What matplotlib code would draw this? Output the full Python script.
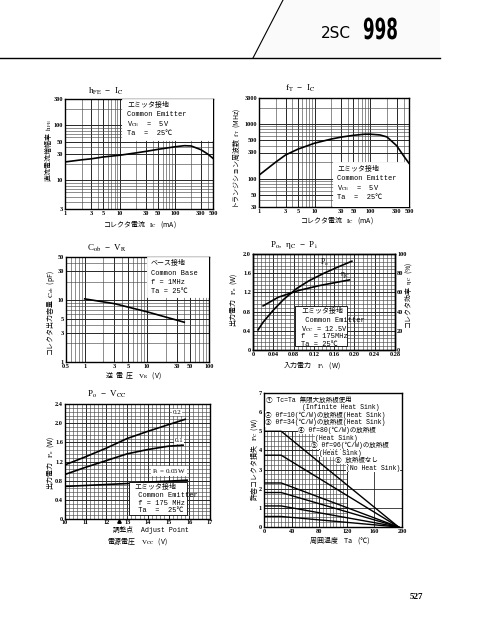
import matplotlib
matplotlib.use('Agg')
import matplotlib.pyplot as plt
import numpy as np
from matplotlib.ticker import MultipleLocator, NullFormatter
from matplotlib.patches import Rectangle, Polygon, PathPatch
from matplotlib.lines import Line2D
from matplotlib.textpath import TextPath
from matplotlib.font_manager import FontProperties
from matplotlib.transforms import Affine2D

SERIF = ['Liberation Serif', 'Noto Sans CJK JP', 'DejaVu Sans']
MONO = ['Liberation Mono', 'Noto Sans CJK JP', 'DejaVu Sans']
CJK = ['Noto Sans CJK JP', 'DejaVu Sans']   # for strings mixing kana/kanji with mathtext
plt.rcParams['font.family'] = SERIF
plt.rcParams['mathtext.fontset'] = 'stix'

# hFE - IC
hfe_ic = [1, 2, 3, 5, 10, 20, 30, 50, 100, 150, 200, 300, 400, 500]
hfe = [21.5, 23.5, 24.5, 26.5, 28.5, 31.5, 33.5, 36.5, 40.5, 42.5, 42, 36, 30, 25]

# fT - IC
ft_ic = [1, 2, 3, 5, 10, 20, 30, 50, 80, 100, 150, 200, 300, 400, 500]
ft = [115, 200, 270, 345, 445, 530, 575, 620, 650, 650, 630, 580, 400, 260, 190]

# Cob - VR
cob_vr = [1, 3, 10, 40]
cob = [10.5, 8.8, 6.5, 4.4]

# Po, eta - Pi
po_pi = [0.01, 0.02, 0.04, 0.06, 0.086, 0.11, 0.14, 0.17, 0.195]
po = [0.42, 0.58, 0.83, 1.05, 1.28, 1.44, 1.6, 1.74, 1.85]
eta_pi = [0.02, 0.05, 0.09, 0.13, 0.16, 0.19]
eta = [46, 55, 62, 67, 70, 73]

# Po - VCC
vcc_02 = [10, 11, 12, 12.5, 13, 14, 15, 15.8]
po_02 = [1.13, 1.3, 1.48, 1.58, 1.68, 1.83, 1.97, 2.08]
vcc_01 = [10, 11, 12, 13, 14, 15, 15.7]
po_01 = [0.93, 1.08, 1.22, 1.36, 1.45, 1.52, 1.54]
vcc_005 = [10, 11, 12, 13, 14, 15, 15.9]
po_005 = [0.68, 0.7, 0.72, 0.74, 0.77, 0.79, 0.81]

# PC - Ta
ta = [0, 25, 195]
pc_curves = [[5.0, 5.0, 0], [3.75, 3.75, 0], [2.3, 2.3, 0],
             [1.8, 1.8, 0], [1.1, 1.1, 0], [0.55, 0.55, 0]]
pc_notes = ['① Tc=Ta 無限大放熱板使用', '(Infinite Heat Sink)',
            '② θf=10(℃/W)の放熱板(Heat Sink)', '③ θf=34(℃/W)の放熱板(Heat Sink)',
            '④ θf=80(℃/W)の放熱板', '(Heat Sink)',
            '⑤ θf=96(℃/W)の放熱板', '(Heat Sink)',
            '⑥ 放熱板なし', '(No Heat Sink)']

W, H = 478, 636
fig = plt.figure(figsize=(4.78, 6.36), dpi=100)


def add_ax(l, t, r, b):
    return fig.add_axes([l / W, 1 - b / H, (r - l) / W, (b - t) / H])


def ftxt(x, y, s, **kw):
    kw.setdefault('fontsize', 5)
    kw.setdefault('va', 'center')
    return fig.text(x / W, 1 - y / H, s, **kw)


def style(ax):
    ax.tick_params(which='both', length=0, pad=1.5, labelsize=4.5)
    for lab in ax.get_xticklabels() + ax.get_yticklabels():
        lab.set_fontweight('bold')
    for s in ax.spines.values():
        s.set_linewidth(1.0)


def log_axes(ax, xlim, ylim, xt, yt):
    ax.set_xscale('log')
    ax.set_yscale('log')
    ax.set_xlim(*xlim)
    ax.set_ylim(*ylim)
    ax.set_xticks(xt, [f'{v:g}' for v in xt])
    ax.set_yticks(yt, [f'{v:g}' for v in yt])
    ax.xaxis.set_minor_formatter(NullFormatter())
    ax.yaxis.set_minor_formatter(NullFormatter())
    ax.grid(which='major', color='0.15', lw=0.7)
    ax.grid(which='minor', color='0.3', lw=0.45)
    style(ax)


def white_box(ax, x0, y0, x1, y1, edge=True):
    ax.add_patch(Rectangle((x0, y0), x1 - x0, y1 - y0, transform=ax.transAxes,
                           fc='white', ec='k' if edge else 'white', lw=0.6, zorder=3))


def box_lines(x, ys, lines, fs=5):
    for y, s in zip(ys, lines):
        ftxt(x, y, s, fontsize=fs, family=MONO, zorder=5)


# header
fig.add_artist(Polygon([(283 / W, 1), (440 / W, 1), (440 / W, 1 - 58 / H), (253 / W, 1 - 58 / H)],
                       closed=True, fc='#fafafa', ec='none', transform=fig.transFigure))
fig.add_artist(Line2D([0, 440 / W], [1 - 58 / H, 1 - 58 / H], color='k', lw=1.0, transform=fig.transFigure))
fig.add_artist(Line2D([253 / W, 283 / W], [1 - 58 / H, 1], color='k', lw=0.8, transform=fig.transFigure))
ftxt(321, 38, '2SC', fontsize=11, va='baseline', family=['DejaVu Sans'])
tp = TextPath((0, 0), '998', size=29, prop=FontProperties(family='DejaVu Sans', weight='bold'))
sx = 33 / tp.get_extents().width
fig.add_artist(PathPatch(tp, fc='k', ec='none',
                         transform=Affine2D().scale(sx, 1).translate(363, H - 39)))

# chart 1: hFE - IC
ax1 = add_ax(65, 99, 213, 209)
log_axes(ax1, (1, 500), (3, 300), [1, 3, 5, 10, 30, 50, 100, 300, 500], [3, 10, 30, 50, 100, 300])
white_box(ax1, 0.385, 0.624, 1.0, 1.0, edge=False)
ax1.plot(hfe_ic, hfe, color='k', lw=1.2, zorder=4)
box_lines(127, [105, 114.3, 124, 133.3],
          ['エミッタ接地', 'Common Emitter', 'V$_{\\rm CE}$  =  5V', 'Ta  =  25℃'])
ftxt(88, 91, 'h$_{\\rm FE}$  −  I$_{\\rm C}$', fontsize=6.5, ha='left')
ftxt(140, 225, 'コレクタ電流   $\\mathrm{I_C}$   (mA)', ha='center', family=CJK)
ftxt(48, 151, '直流電流増幅率  $\\mathrm{h_{FE}}$', rotation=90, ha='center', family=CJK)

# chart 2: fT - IC
ax2 = add_ax(259, 98, 409, 207)
log_axes(ax2, (1, 500), (30, 3000), [1, 3, 5, 10, 30, 50, 100, 300, 500],
         [30, 50, 100, 300, 500, 1000, 3000])
white_box(ax2, 0.49, 0.0, 1.0, 0.41, edge=False)
ax2.plot(ft_ic, ft, color='k', lw=1.2, zorder=4)
box_lines(337, [169, 178.3, 187.7, 197.3],
          ['エミッタ接地', 'Common Emitter', 'V$_{\\rm CE}$  =  5V', 'Ta  =  25℃'])
ftxt(285, 88, 'f$_{\\rm T}$  −  I$_{\\rm C}$', fontsize=6.5, ha='left')
ftxt(337, 221, 'コレクタ電流   $\\mathrm{I_C}$   (mA)', ha='center', family=CJK)
ftxt(237, 158, 'トランジション周波数  $\\mathrm{f_T}$  (MHz)', rotation=90, ha='center', family=CJK)

# chart 3: Cob - VR
ax3 = add_ax(66, 257, 209, 362)
log_axes(ax3, (0.5, 100), (1, 50), [0.5, 1, 3, 5, 10, 30, 50, 100], [1, 3, 5, 10, 30, 50])
white_box(ax3, 0.566, 0.62, 1.0, 1.0, edge=False)
ax3.plot(cob_vr, cob, color='k', lw=1.2, zorder=4)
box_lines(151, [263.3, 273.3, 282.7, 291.7],
          ['ベース接地', 'Common Base', 'f = 1MHz', 'Ta = 25℃'])
ftxt(87, 248, 'C$_{\\rm ob}$  −  V$_{\\rm R}$', fontsize=6.5, ha='left')
ftxt(133, 376, '逆  電  圧    $\\mathrm{V_R}$   (V)', ha='center', family=CJK)
ftxt(51, 313, 'コレクタ出力容量  $\\mathrm{C_{ob}}$  (pF)', rotation=90, ha='center', family=CJK)

# chart 4: Po, eta - Pi
ax4 = add_ax(253, 254, 395, 350)
ax4.set_xlim(0, 0.28)
ax4.set_ylim(0, 2.0)
ax4.set_xticks(np.arange(0, 0.281, 0.04), ['0', '0.04', '0.08', '0.12', '0.16', '0.20', '0.24', '0.28'])
ax4.set_yticks(np.arange(0, 2.01, 0.4), ['0', '0.4', '0.8', '1.2', '1.6', '2.0'])
ax4.xaxis.set_minor_locator(MultipleLocator(0.008))
ax4.yaxis.set_minor_locator(MultipleLocator(0.08))
ax4.grid(which='major', color='0.15', lw=0.7)
ax4.grid(which='minor', color='0.3', lw=0.45)
style(ax4)
white_box(ax4, 0.296, 0.04, 0.66, 0.455)
ax4.plot(po_pi, po, color='k', lw=1.2, zorder=4)
ax4.text(0.132, 1.78, 'P$_{\\rm o}$', fontsize=5.5, zorder=5)
ax4b = ax4.twinx()
ax4b.set_ylim(0, 100)
ax4b.set_yticks(np.arange(0, 101, 20), ['0', '20', '40', '60', '80', '100'])
style(ax4b)
ax4b.plot(eta_pi, eta, color='k', lw=1.2, zorder=4)
ax4b.text(0.171, 77, 'η$_{\\rm C}$', fontsize=5.5)
box_lines(301, [311.7, 320, 328.7, 336.7, 344.3],
          ['エミッタ接地', ' Common Emitter', 'V$_{\\rm CC}$ = 12.5V', 'f  = 175MHz', 'Ta = 25℃'])
ftxt(270, 245, 'P$_{\\rm o}$,  η$_{\\rm C}$  −  P$_{\\rm i}$', fontsize=6.5, ha='left')
ftxt(312, 366, '入力電力    $\\mathrm{P_i}$    (W)', ha='center', family=CJK)
ftxt(234, 300, '出力電力   $\\mathrm{P_o}$  (W)', rotation=90, ha='center', family=CJK)
ftxt(409, 295, 'コレクタ効率  $\\mathrm{\\eta_C}$  (%)', rotation=90, ha='center', family=CJK)

# chart 5: Po - VCC
ax5 = add_ax(65, 404, 210, 519)
ax5.set_xlim(10, 17)
ax5.set_ylim(0, 2.4)
ax5.set_xticks(range(10, 18), [str(v) for v in range(10, 18)])
ax5.set_yticks(np.arange(0, 2.41, 0.4), ['0', '0.4', '0.8', '1.2', '1.6', '2.0', '2.4'])
ax5.xaxis.set_minor_locator(MultipleLocator(0.2))
ax5.yaxis.set_minor_locator(MultipleLocator(0.08))
ax5.grid(which='major', color='0.15', lw=0.7)
ax5.grid(which='minor', color='0.3', lw=0.45)
style(ax5)
ax5.tick_params(axis='x', pad=0.5)
ax5.plot(vcc_02, po_02, color='k', lw=1.2, zorder=2.5)
ax5.plot(vcc_01, po_01, color='k', lw=1.2, zorder=2.5)
ax5.plot(vcc_005, po_005, color='k', lw=1.2, zorder=2.5)
white_box(ax5, 0.443, 0.033, 0.843, 0.32)
ax5.text(15.4, 2.22, '0.2', fontsize=5, ha='center', va='center', zorder=5,
         bbox=dict(fc='white', ec='none', pad=0.5))
ax5.text(15.5, 1.63, '0.1', fontsize=5, ha='center', va='center', zorder=5,
         bbox=dict(fc='white', ec='none', pad=0.5))
ax5.text(14.2, 1.0, 'P$_{\\rm i}$ = 0.05W', fontsize=5, ha='left', va='center', zorder=5,
         bbox=dict(fc='white', ec='none', pad=0.5))
ax5.plot([12.6], [-0.05], marker='^', ms=2.5, color='k', clip_on=False)
box_lines(134, [487.3, 495.7, 503.3, 511],
          ['エミッタ接地', ' Common Emitter', ' f = 175 MHz', ' Ta  =  25℃'])
ftxt(87, 394, 'P$_{\\rm o}$  −  V$_{\\rm CC}$', fontsize=6.5, ha='left')
ftxt(113, 530, '調整点  Adjust Point', ha='left', family=MONO, fontsize=4.8)
ftxt(137, 541, '電源電圧    $\\mathrm{V_{CC}}$   (V)', ha='center', family=CJK)
ftxt(51, 463, '出力電力   $\\mathrm{P_o}$  (W)', rotation=90, ha='center', family=CJK)

# chart 6: PC - Ta
ax6 = add_ax(264, 393, 402, 527)
ax6.set_xlim(0, 200)
ax6.set_ylim(0, 7)
ax6.set_xticks(range(0, 201, 40), [str(v) for v in range(0, 201, 40)])
ax6.set_yticks(range(0, 8), [str(v) for v in range(0, 8)])
style(ax6)
ax6.vlines(np.arange(0, 121, 5), 0, 5.0, color='0.3', lw=0.45, zorder=1)
ax6.hlines(np.arange(0, 5.01, 0.25), 0, 120, color='0.3', lw=0.45, zorder=1)
ax6.vlines([40, 80, 120], 0, 5.0, color='0.15', lw=0.7, zorder=1)
ax6.hlines([1, 2, 3, 4, 5], 0, 120, color='0.15', lw=0.7, zorder=1)
ax6.vlines([160], 0, 3, color='0.15', lw=0.6, zorder=1)
ax6.hlines([1, 2, 3], 120, 200, color='0.15', lw=0.6, zorder=1)
for pc in pc_curves:
    ax6.plot(ta, pc, color='k', lw=1.0, zorder=3)
bb = dict(fc='white', ec='none', pad=0.1)
note_xy = [(266, 400), (302, 407.6), (265, 415.2), (265, 422.8), (298, 430.4),
           (315, 438), (311, 445.6), (319, 453.2), (335, 460.8), (346, 468.4)]
for (x, y), s in zip(note_xy, pc_notes):
    ftxt(x, y, s, fontsize=4.7, ha='left', family=MONO, bbox=bb, zorder=5)
ftxt(340, 541, '周囲温度    Ta    (℃)', ha='center', family=CJK)
ftxt(254, 460, '許容コレクタ損失   $\\mathrm{P_C}$  (W)', rotation=90, ha='center', family=CJK)

ftxt(416, 597, '527', fontsize=6.5, ha='center', fontweight='bold')

fig.savefig('out.png', dpi=100, facecolor='white')
